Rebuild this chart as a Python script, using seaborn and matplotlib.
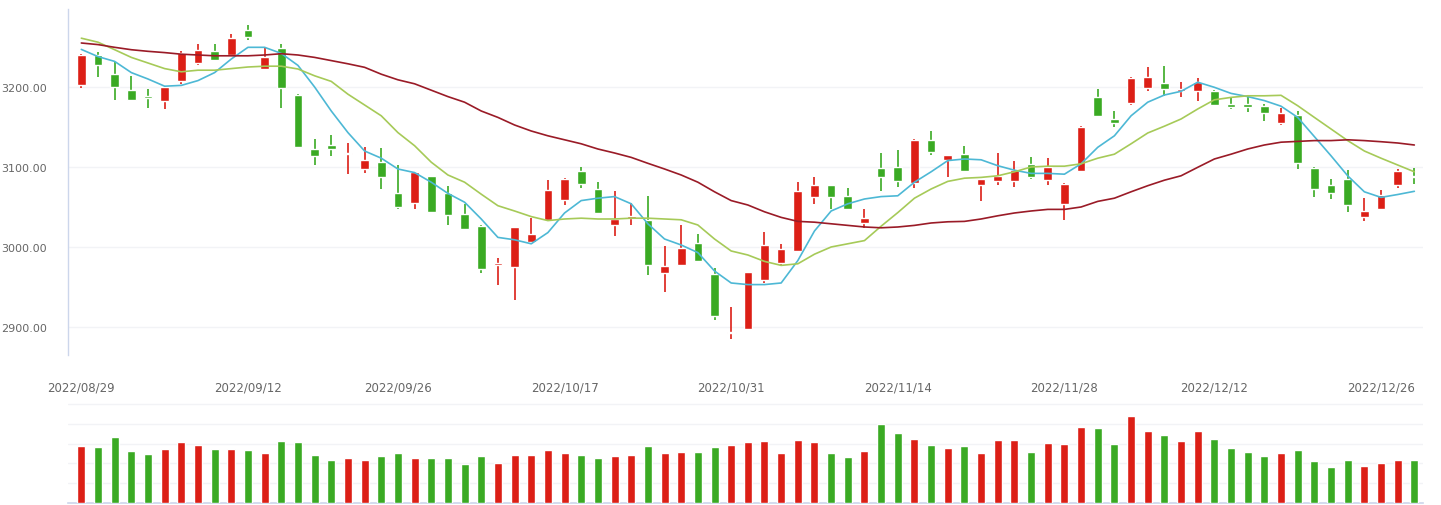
import numpy as np
import pandas as pd
import matplotlib
matplotlib.use("Agg")
import matplotlib.pyplot as plt
import seaborn as sns

# daily candles (index 0 = 2022/08/29)
opens = [3202, 3240, 3216, 3196, 3189, 3183, 3207, 3230, 3245, 3240,
         3271, 3223, 3249, 3190, 3122.5, 3127.5, 3116, 3098, 3106, 3067.5,
         3055, 3089, 3067.5, 3041, 3026, 2977, 2975, 3006, 3034, 3059,
         3095, 3072.5, 3028, 3036, 3034, 2968, 2977, 3005, 2966, 2892,
         2898, 2959, 2980, 2995, 3062, 3077.5, 3064, 3030, 3099, 3100,
         3080, 3134, 3109, 3116, 3077, 3083, 3083, 3104, 3084, 3054,
         3095, 3187.5, 3160, 3180, 3199, 3205, 3195.5, 3195, 3195, 3179,
         3179, 3176, 3155, 3165, 3099, 3077.5, 3085, 3038, 3047, 3077,
         3089]
highs = [3241, 3244, 3231, 3214, 3198, 3201, 3245, 3254, 3254, 3266,
         3278, 3250, 3254, 3191, 3135, 3140, 3130, 3125, 3124, 3102.5,
         3094, 3089, 3076, 3054, 3028, 2986, 3025, 3036, 3084, 3086,
         3100, 3081, 3070, 3055, 3064, 3001, 3027.5, 3016, 2974, 2925,
         2969, 3019, 3004, 3081, 3087.5, 3078, 3074, 3047.5, 3117.5, 3121,
         3135, 3145, 3115, 3126, 3085, 3117.5, 3107.5, 3112.5, 3111, 3080,
         3151, 3197.5, 3170, 3212, 3225, 3226, 3206, 3211, 3196, 3186,
         3190, 3179, 3174, 3170, 3100, 3085, 3096, 3061, 3071, 3097.5,
         3099]
lows = [3199, 3213, 3184, 3182, 3174, 3172, 3204, 3228, 3233, 3239,
        3259, 3222, 3174, 3125, 3102, 3114, 3091, 3093, 3072, 3048,
        3048, 3044, 3027, 3022, 2968, 2953, 2934, 3004, 3034, 3053,
        3074, 3043, 3014, 3027, 2965, 2944, 2977, 2982, 2909, 2885,
        2897, 2955, 2978, 2995, 3054, 3048, 3047, 3024, 3070, 3075,
        3074, 3115, 3087, 3095, 3057, 3077, 3075, 3085, 3078, 3034,
        3095, 3164, 3150, 3177, 3195, 3189, 3188, 3183, 3177, 3172,
        3169, 3158, 3152, 3097, 3062, 3060, 3044, 3032, 3047, 3074,
        3079]
closes = [3240, 3227, 3200, 3184, 3186, 3200, 3243, 3246, 3234, 3261,
          3263, 3237.5, 3199, 3125, 3114, 3122, 3117, 3109, 3087, 3050,
          3094, 3044, 3040, 3023, 2973, 2980, 3025, 3016, 3071, 3085,
          3079, 3043, 3035, 3039, 2977, 2976, 2999, 2982, 2914, 2893,
          2969, 3002.5, 2997.5, 3070, 3077.5, 3063, 3047, 3036, 3087, 3082,
          3134, 3119, 3115, 3095, 3085, 3089, 3096, 3088, 3100, 3079,
          3150, 3164, 3155, 3211, 3212.5, 3198, 3197.5, 3206, 3178, 3175.5,
          3175.5, 3168, 3167.5, 3105, 3073, 3067, 3053, 3045, 3065, 3095,
          3087]

# moving averages as drawn
ma5 = [3247, 3238, 3232, 3218, 3210, 3201, 3202, 3208, 3218, 3235,
       3249.6, 3249.6, 3242, 3227, 3200, 3170, 3143, 3120, 3111, 3097.5,
       3093, 3081, 3067, 3056, 3035, 3012, 3009, 3004, 3018, 3042.5,
       3058, 3061, 3063, 3054, 3029, 3010, 3002.5, 2993, 2970, 2955,
       2953, 2953, 2955, 2983, 3020, 3045, 3054, 3060, 3063, 3064,
       3081, 3094, 3108, 3110, 3109, 3101.6, 3096, 3092, 3092, 3091,
       3104, 3124.6, 3139, 3164, 3181, 3190, 3194.6, 3206, 3199.6, 3192,
       3188, 3183, 3176, 3162, 3138, 3114, 3089, 3069, 3062, 3065.6,
       3069.6]
ma10 = [3261, 3256, 3246.6, 3237, 3230, 3223, 3219, 3221, 3221, 3223,
        3225, 3226, 3226, 3222.5, 3214, 3207, 3191, 3177.5, 3164, 3143,
        3126.6, 3106, 3090, 3081, 3066, 3051.6, 3045, 3038, 3033, 3035,
        3036, 3035, 3035, 3036, 3036, 3035, 3034, 3027.5, 3010, 2995,
        2990, 2982, 2977, 2979, 2991, 3000, 3004, 3008, 3026, 3043,
        3061, 3072.5, 3082, 3086, 3087, 3089, 3094, 3100, 3101, 3101,
        3104, 3111, 3116, 3129, 3142.5, 3151, 3160, 3172.5, 3184, 3187,
        3189, 3189, 3189.6, 3176.6, 3162, 3147.5, 3133, 3120, 3111, 3102.5,
        3094]
ma30 = [3255, 3253, 3249.6, 3246.6, 3244.6, 3243, 3241, 3240, 3239, 3239,
        3239, 3240, 3241.6, 3240, 3237, 3233, 3229, 3224.6, 3216, 3209,
        3204, 3196, 3188, 3181, 3170, 3162, 3152.5, 3145, 3139, 3134,
        3129, 3122.5, 3117.5, 3112, 3104.6, 3097.5, 3090, 3081, 3069, 3058,
        3052.5, 3044, 3037, 3032, 3031, 3029, 3027, 3025, 3024, 3025,
        3027, 3030, 3031.5, 3032, 3035, 3039, 3042.5, 3045, 3047, 3047,
        3050, 3057, 3061, 3069, 3076.6, 3083.5, 3089, 3099.6, 3110, 3116,
        3122.5, 3127.5, 3131, 3132, 3133, 3133, 3134, 3133, 3131.6, 3130,
        3127.5]

# volume (relative units)
volume = [2.9, 2.85, 3.35, 2.65, 2.45, 2.75, 3.1, 2.95, 2.75, 2.75,
          2.7, 2.5, 3.15, 3.1, 2.4, 2.15, 2.25, 2.15, 2.35, 2.55,
          2.25, 2.25, 2.25, 1.95, 2.35, 2.0, 2.4, 2.4, 2.7, 2.55,
          2.4, 2.25, 2.35, 2.4, 2.9, 2.5, 2.6, 2.6, 2.85, 2.95,
          3.1, 3.15, 2.5, 3.2, 3.1, 2.5, 2.3, 2.65, 4.0, 3.55,
          3.25, 2.95, 2.8, 2.9, 2.5, 3.2, 3.2, 2.6, 3.05, 3.0,
          3.85, 3.8, 3.0, 4.4, 3.65, 3.45, 3.15, 3.65, 3.25, 2.8,
          2.6, 2.35, 2.5, 2.7, 2.1, 1.8, 2.15, 1.85, 2.0, 2.15,
          2.15]

tick_idx = [0, 10, 19, 29, 39, 49, 59, 68, 78]
tick_labels = ["2022/08/29", "2022/09/12", "2022/09/26", "2022/10/17", "2022/10/31",
               "2022/11/14", "2022/11/28", "2022/12/12", "2022/12/26"]

RED = "#dc1f16"
GREEN = "#3aaa23"
GRID = "#f2f3f6"
AXIS = "#ccd6eb"
LABEL = "#666666"

df = pd.DataFrame({"open": opens, "high": highs, "low": lows, "close": closes,
                   "vol": volume, "ma5": ma5, "ma10": ma10, "ma30": ma30})
df["i"] = np.arange(len(df))
df["dir"] = np.where(df["close"] >= df["open"], "up", "down")
colors = df["dir"].map({"up": RED, "down": GREEN})

sns.set_theme(style="white")
plt.rcParams["font.family"] = ["DejaVu Sans"]

fig = plt.figure(figsize=(14.41, 5.06), dpi=100)
ax = fig.add_axes([68 / 1441, 1 - 355.5 / 506, (1423 - 68) / 1441, 345.5 / 506])
axv = fig.add_axes([68 / 1441, 1 - 504 / 506, (1423 - 68) / 1441, 100 / 506])

xlim = (-0.8, 80.52)

# candles
for y in [2900, 3000, 3100, 3200]:
    ax.axhline(y, color=GRID, lw=1, zorder=0)
ax.vlines(df["i"], df["low"], df["high"], colors=colors, lw=1.2, zorder=2)
body_lo = df[["open", "close"]].min(axis=1)
body_h = (df["close"] - df["open"]).abs().clip(lower=1.2)
ax.bar(df["i"], body_h, bottom=body_lo, width=0.52, color=colors, zorder=3)

sns.lineplot(data=df, x="i", y="ma5", color="#4db8d5", lw=1.2, ax=ax, zorder=4)
sns.lineplot(data=df, x="i", y="ma10", color="#a6ca58", lw=1.2, ax=ax, zorder=4)
sns.lineplot(data=df, x="i", y="ma30", color="#9a1b27", lw=1.2, ax=ax, zorder=4)

ax.set_xlim(*xlim)
ax.set_ylim(2865.6, 3297.5)
ax.set_yticks([2900, 3000, 3100, 3200])
ax.set_yticklabels([f"{v:.2f}" for v in [2900, 3000, 3100, 3200]])
ax.set_xticks(tick_idx)
ax.set_xticklabels(tick_labels)
ax.tick_params(axis="y", length=0, pad=15, labelsize=8, labelcolor=LABEL)
ax.tick_params(axis="x", length=0, pad=19, labelsize=8.5, labelcolor=LABEL)
ax.set_xlabel("")
ax.set_ylabel("")
for s in ["top", "right", "bottom"]:
    ax.spines[s].set_visible(False)
ax.spines["left"].set_color(AXIS)
ax.spines["left"].set_linewidth(1)

# volume
for y in [1, 2, 3, 4, 5]:
    axv.axhline(y, color=GRID, lw=1, zorder=0)
sns.barplot(data=df, x="i", y="vol", hue="dir", palette={"up": RED, "down": GREEN},
            dodge=False, width=0.48, legend=False, saturation=1, ax=axv, zorder=3)
axv.set_xlim(*xlim)
axv.set_ylim(0, 5.05)
axv.set_xticks([])
axv.set_yticks([])
axv.set_xlabel("")
axv.set_ylabel("")
for s in ["top", "right", "left"]:
    axv.spines[s].set_visible(False)
axv.spines["bottom"].set_color(AXIS)
axv.spines["bottom"].set_linewidth(1.2)

fig.savefig("out.png", dpi=100, facecolor="white")
